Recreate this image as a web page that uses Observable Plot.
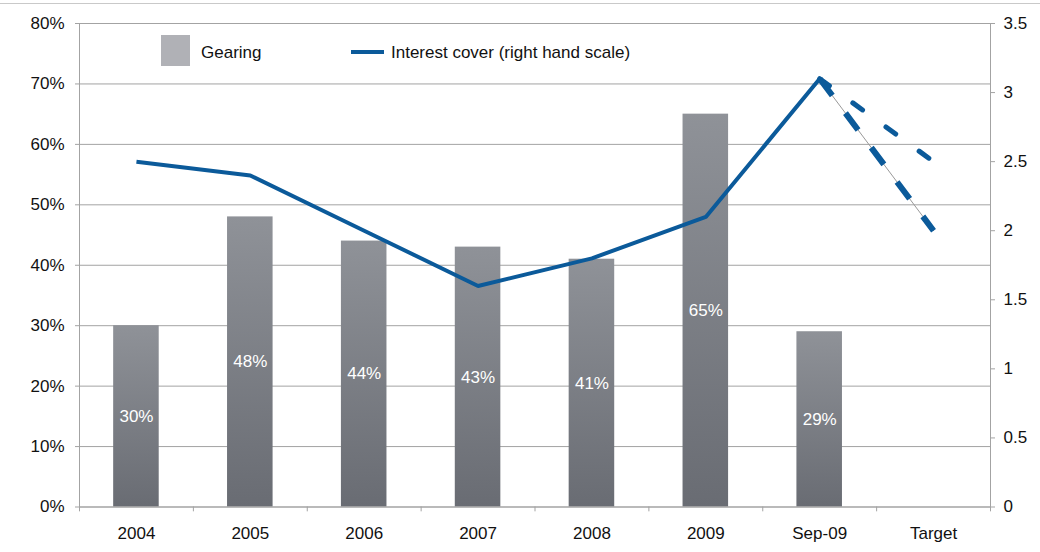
<!DOCTYPE html>
<html>
<head>
<meta charset="utf-8">
<script src="https://cdn.jsdelivr.net/npm/d3@7"></script>
<script src="https://cdn.jsdelivr.net/npm/@observablehq/plot@0.6"></script>
<style>
  html, body { margin: 0; padding: 0; background: #fff; }
  #wrap { position: relative; width: 1040px; height: 552px; font-family: "Liberation Sans", Arial, sans-serif; }
  #topline { position: absolute; left: 0; top: 3px; width: 1040px; height: 0; border-top: 1.5px solid #c9c9c9; }
  .leg { position: absolute; font-size: 17px; color: #111; white-space: nowrap; }
  #legSq { position: absolute; left: 161px; top: 35px; width: 29px; height: 31px; background: #b0b1b6; }
  #legLn { position: absolute; left: 351px; top: 50px; width: 33px; height: 4px; background: #0b5a9a; }
</style>
</head>
<body>
<div id="wrap">
  <div id="chart"></div>
  <div id="topline"></div>
  <div id="legSq"></div>
  <div class="leg" style="left:201px; top:43px;">Gearing</div>
  <div id="legLn"></div>
  <div class="leg" style="left:391px; top:43px;">Interest cover (right hand scale)</div>
</div>
<script>
// ---- data ----
const categories = ["2004", "2005", "2006", "2007", "2008", "2009", "Sep-09", "Target"];
const gearingCats = ["2004", "2005", "2006", "2007", "2008", "2009", "Sep-09"];
const gearingValues = [30, 48, 44, 43, 41, 65, 29];
const coverCats = ["2004", "2005", "2006", "2007", "2008", "2009", "Sep-09"];
const coverValues = [2.5, 2.4, 2.0, 1.6, 1.8, 2.1, 3.1];
const targetHigh = 2.5;
const targetLow = 2.0;
const leftTicks = [0, 10, 20, 30, 40, 50, 60, 70, 80];
const rightTicks = [0, 0.5, 1, 1.5, 2, 2.5, 3, 3.5];

// ---- derived tables ----
const leftMax = 80, rightMax = 3.5;
const k = leftMax / rightMax; // map cover onto left scale
const bars = gearingCats.map((c, i) => ({cat: c, value: gearingValues[i]}));
const cover = coverCats.map((c, i) => ({cat: c, v: coverValues[i]}));
const last = cover[cover.length - 1];
const dashHigh = [last, {cat: "Target", v: targetHigh}];
const dashLow = [last, {cat: "Target", v: targetLow}];

const blue = "#0b5a9a";
const gray = "#a3a3a3";
const W = 1040, H = 552, mL = 79, mR = 50;
const step = (W - mL - mR) / (categories.length - 0.6 + 0.6);

const plot = Plot.plot({
  width: W, height: H,
  marginLeft: mL, marginRight: mR, marginTop: 23, marginBottom: 45.5,
  style: {fontFamily: "Liberation Sans, Arial, sans-serif", fontSize: "17px", background: "transparent", color: "#111"},
  x: {type: "band", domain: categories, paddingInner: 0.6, paddingOuter: 0.3, round: false, axis: null},
  y: {domain: [0, leftMax], axis: null},
  marks: [
    Plot.gridY({ticks: leftTicks, stroke: gray, strokeOpacity: 1}),
    Plot.barY(bars, {x: "cat", y: "value", fill: "url(#barGrad)"}),
    Plot.text(bars, {x: "cat", y: d => d.value / 2, text: d => d.value + "%", fill: "white", fontSize: 17}),
    Plot.line(dashLow, {x: "cat", y: d => d.v * k, stroke: "#999", strokeWidth: 1}),
    Plot.line(cover, {x: "cat", y: d => d.v * k, stroke: blue, strokeWidth: 4, strokeLinejoin: "miter", strokeLinecap: "butt"}),
    Plot.line(dashHigh, {x: "cat", y: d => d.v * k, stroke: blue, strokeWidth: 5, strokeDasharray: "12,29", strokeLinecap: "round"}),
    Plot.line(dashLow, {x: "cat", y: d => d.v * k, stroke: blue, strokeWidth: 6, strokeDasharray: "21,22", strokeLinecap: "butt"}),
    Plot.frame({stroke: gray}),
    Plot.axisY({ticks: leftTicks, tickFormat: d => d + "%", tickSize: 4, tickPadding: 11, stroke: gray, fill: "#111", label: null, fontSize: 17}),
    Plot.axisY({anchor: "right", ticks: rightTicks.map(v => v * k), tickFormat: d => String(Math.round(d / k * 10) / 10), tickSize: 4, tickPadding: 9, stroke: gray, fill: "#111", label: null, fontSize: 17}),
    Plot.axisX({tickSize: 0, tickPadding: 20, fill: "#111", label: null, fontSize: 17}),
    Plot.ruleX(categories, {x: d => d, dx: -step / 2, y1: 0, y2: -0.8, stroke: gray}),
    Plot.ruleX(categories.slice(-1), {x: d => d, dx: step / 2, y1: 0, y2: -0.8, stroke: gray})
  ]
});

const svg = d3.select(plot);
const defs = svg.insert("defs", ":first-child");
const g = defs.append("linearGradient").attr("id", "barGrad")
  .attr("x1", 0).attr("y1", 0).attr("x2", 0).attr("y2", 1);
g.append("stop").attr("offset", "0%").attr("stop-color", "#8f9298");
g.append("stop").attr("offset", "100%").attr("stop-color", "#696c73");

document.getElementById("chart").appendChild(plot);
</script>
</body>
</html>
